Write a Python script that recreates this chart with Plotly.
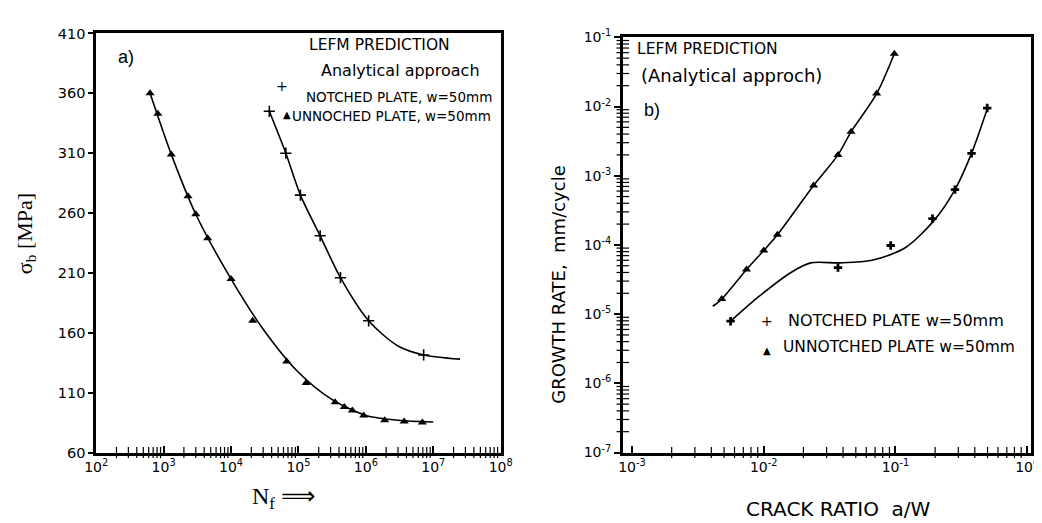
import plotly.graph_objects as go

W, H = 1042, 523

# ---- panel a) : S-N curves ----
unnotched_N = [630, 820, 1300, 2300, 3000, 4500, 10000, 21000, 67000, 130000,
               350000, 480000, 630000, 930000, 1.9e6, 3.7e6, 6.9e6]
unnotched_S = [360, 343, 309, 274, 259, 239, 205, 170, 136, 118,
               102, 98, 95, 91, 87, 86, 85]
unnotched_curve_N = [630, 1300, 3000, 1e4, 3e4, 1e5, 3e5, 1e6, 3e6, 1e7]
unnotched_curve_S = [360, 309, 259, 205, 163, 127, 105, 91, 87, 85.5]

notched_N = [37000, 65000, 107000, 210000, 420000, 1.1e6, 7.2e6]
notched_S = [345, 310, 275, 241, 206, 170, 141.5]
notched_curve_N = [37000, 65000, 107000, 210000, 420000, 1.1e6, 3e6, 7.2e6, 2.5e7]
notched_curve_S = [345, 310, 275, 241, 206, 170, 149, 141.5, 138]

# ---- panel b) : crack growth rate ----
unn_aw = [0.0048, 0.0074, 0.0100, 0.0127, 0.0239, 0.0366, 0.046, 0.072, 0.098]
unn_rate = [1.65e-5, 4.4e-5, 8.3e-5, 1.4e-4, 7.2e-4, 2.0e-3, 4.3e-3, 1.54e-2, 5.8e-2]
unn_curve_aw = [0.0041] + unn_aw
unn_curve_rate = [1.3e-5] + unn_rate

not_aw = [0.0056, 0.0366, 0.092, 0.191, 0.283, 0.378, 0.497]
not_rate = [7.9e-6, 4.7e-5, 9.8e-5, 2.4e-4, 6.3e-4, 2.1e-3, 9.5e-3]
not_curve_aw = [0.0056, 0.0092, 0.0161, 0.0227, 0.0378, 0.0664, 0.1186, 0.198, 0.283, 0.378, 0.50]
not_curve_rate = [7.9e-6, 1.8e-5, 4.0e-5, 5.5e-5, 5.5e-5, 6.0e-5, 9.1e-5, 2.3e-4, 6.3e-4, 2.1e-3, 9.5e-3]

# tick labels
sn_xticks = [1e2, 1e3, 1e4, 1e5, 1e6, 1e7, 1e8]
sn_xlabels = ["10<sup>%d</sup>" % e for e in range(2, 9)]
aw_xticks = [1e-3, 1e-2, 1e-1, 1]
aw_xlabels = ["10<sup>-3</sup>", "10<sup>-2</sup>", "10<sup>-1</sup>", "10<sup>0</sup>"]
rate_yticks = [1e-7, 1e-6, 1e-5, 1e-4, 1e-3, 1e-2, 1e-1]
rate_ylabels = ["10<sup>-%d</sup>" % e for e in range(7, 0, -1)]

# minor log ticks (2..9 in every decade)
sn_minor = [k * 10.0 ** e for e in range(2, 8) for k in range(2, 10)]
aw_minor = [k * 10.0 ** e for e in range(-3, 0) for k in range(2, 10)]
rate_minor = [k * 10.0 ** e for e in range(-7, -1) for k in range(2, 10)]

SN_RANGE = [2, 8]
S_RANGE = [60, 410]
AW_RANGE = [-3.07, 0.03]
RATE_RANGE = [-7, -1]

SANS = "DejaVu Sans"
SERIF = "Liberation Serif"


def px(x):
    return x / W


def py(y):
    return 1 - y / H


fig = go.Figure()

line = dict(color="black", width=1.6, shape="spline", smoothing=0.8)
tri = dict(symbol="triangle-up", size=8, color="black")

# panel a
fig.add_trace(go.Scatter(x=unnotched_curve_N, y=unnotched_curve_S, mode="lines",
                         line=line, xaxis="x", yaxis="y"))
fig.add_trace(go.Scatter(x=notched_curve_N, y=notched_curve_S, mode="lines",
                         line=line, xaxis="x", yaxis="y"))
fig.add_trace(go.Scatter(x=unnotched_N, y=unnotched_S, mode="markers",
                         marker=tri, xaxis="x", yaxis="y"))
fig.add_trace(go.Scatter(x=notched_N, y=notched_S, mode="markers",
                         marker=dict(symbol="cross-thin", size=8, color="black",
                                     line=dict(color="black", width=1.6)),
                         xaxis="x", yaxis="y"))

# panel b
fig.add_trace(go.Scatter(x=unn_curve_aw, y=unn_curve_rate, mode="lines",
                         line=line, xaxis="x2", yaxis="y2"))
fig.add_trace(go.Scatter(x=not_curve_aw, y=not_curve_rate, mode="lines",
                         line=line, xaxis="x2", yaxis="y2"))
fig.add_trace(go.Scatter(x=unn_aw, y=unn_rate, mode="markers",
                         marker=tri, xaxis="x2", yaxis="y2"))
fig.add_trace(go.Scatter(x=not_aw, y=not_rate, mode="markers",
                         marker=dict(symbol="cross", size=7, color="black"),
                         xaxis="x2", yaxis="y2"))

# minor ticks along the axis lines, as small line markers
tickmark = dict(color="black", width=1.2)
fig.add_trace(go.Scatter(x=sn_minor, y=[S_RANGE[0]] * len(sn_minor), mode="markers",
                         marker=dict(symbol="line-ns-open", size=8, color="black",
                                     line=tickmark),
                         cliponaxis=False, hoverinfo="skip", xaxis="x", yaxis="y"))
fig.add_trace(go.Scatter(x=aw_minor, y=[10 ** RATE_RANGE[0]] * len(aw_minor), mode="markers",
                         marker=dict(symbol="line-ns-open", size=8, color="black",
                                     line=tickmark),
                         cliponaxis=False, hoverinfo="skip", xaxis="x2", yaxis="y2"))
fig.add_trace(go.Scatter(x=[10 ** AW_RANGE[0]] * len(rate_minor), y=rate_minor, mode="markers",
                         marker=dict(symbol="line-ew-open", size=9, color="black",
                                     line=tickmark),
                         cliponaxis=False, hoverinfo="skip", xaxis="x2", yaxis="y2"))

frame = dict(showline=True, linecolor="black", linewidth=2.5, mirror=True,
             showgrid=False, zeroline=False, tickcolor="black", tickwidth=1.5,
             tickfont=dict(family=SANS, size=14, color="black"))

fig.update_layout(
    width=W, height=H,
    margin=dict(l=0, r=0, t=0, b=0),
    paper_bgcolor="white", plot_bgcolor="white",
    showlegend=False,
    xaxis=dict(frame, type="log", range=SN_RANGE, domain=[px(78), px(492)],
               tickvals=sn_xticks, ticktext=sn_xlabels, ticks="inside", ticklen=7,
               anchor="y"),
    yaxis=dict(frame, range=S_RANGE, domain=[py(450), py(16)],
               tick0=60, dtick=50, ticks="outside", ticklen=5, anchor="x",
               tickfont=dict(family=SANS, size=14.5, color="black")),
    xaxis2=dict(frame, type="log", range=AW_RANGE, domain=[px(617), px(1035)],
                tickvals=aw_xticks, ticktext=aw_xlabels, ticks="inside", ticklen=7,
                anchor="y2"),
    yaxis2=dict(frame, type="log", range=RATE_RANGE, domain=[py(450), py(20)],
                tickvals=rate_yticks, ticktext=rate_ylabels, ticks="outside", ticklen=6,
                anchor="x2"),
)


def note(text, x, y, size=14, family=SANS, xanchor="center", angle=0):
    fig.add_annotation(text=text, x=px(x), y=py(y), xref="paper", yref="paper",
                       showarrow=False, xanchor=xanchor, yanchor="middle",
                       textangle=angle,
                       font=dict(family=family, size=size, color="black"))


# panel a texts
note("a)", 108, 40, size=18, family="Liberation Sans")
note("LEFM PREDICTION", 368, 28, size=15.5)
note("Analytical approach", 389, 54, size=16)
note("+", 268, 70, size=14)
note("NOTCHED PLATE, w=50mm", 291, 82, size=13.5, xanchor="left")
note("▲", 273, 100, size=10)
note("UNNOCHED PLATE, w=50mm", 276, 101, size=13.5, xanchor="left")
note("σ<sub>b</sub> [MPa]", 6, 223, size=22, family=SERIF, angle=-90)
note("N<sub>f</sub> ⟹", 270, 497, size=24, family=SERIF)

# panel b texts
note("b)", 647, 95, size=18, family="Liberation Sans")
note("LEFM PREDICTION", 630, 32, size=15.5, xanchor="left")
note("(Analytical approch)", 634, 60, size=18, xanchor="left")
note("+", 765, 314, size=14)
note("NOTCHED PLATE w=50mm", 784, 313, size=16, xanchor="left")
note("▲", 765, 344, size=10)
note("UNNOTCHED PLATE w=50mm", 779, 341, size=15.5, xanchor="left")
note("GROWTH RATE,  mm/cycle", 551, 276, size=18, angle=-90)
note("CRACK RATIO  a/W", 838, 508, size=20)

fig.write_html("out.html")
